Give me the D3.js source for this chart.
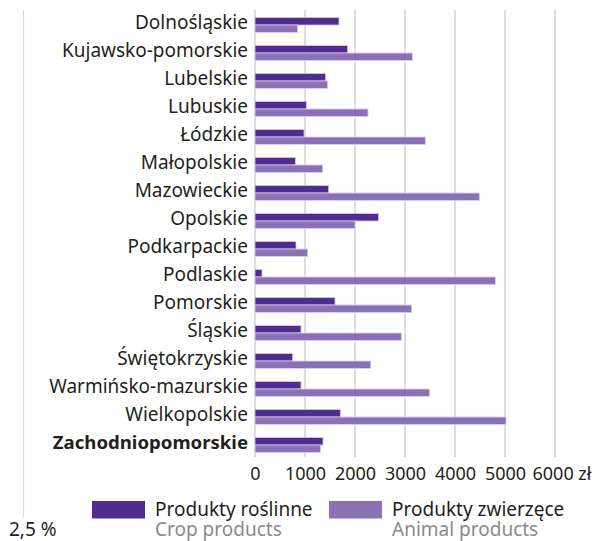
<!DOCTYPE html>
<html><head><meta charset="utf-8">
<script src="https://cdn.jsdelivr.net/npm/d3@7"></script>
<style>body{margin:0;background:#fff}svg{display:block}</style>
</head><body>
<svg id="c" width="595" height="541"></svg>
<script>
const categories = ["Dolnośląskie","Kujawsko-pomorskie","Lubelskie","Lubuskie","Łódzkie","Małopolskie","Mazowieckie","Opolskie","Podkarpackie","Podlaskie","Pomorskie","Śląskie","Świętokrzyskie","Warmińsko-mazurskie","Wielkopolskie","Zachodniopomorskie"];
const cropValues = [1680,1853,1413,1027,980,807,1473,2473,820,140,1600,920,753,920,1707,1360];
const animalValues = [853,3147,1453,2260,3407,1353,4487,2000,1053,4807,3133,2927,2313,3487,5020,1313];
const tickValues = [0,1000,2000,3000,4000,5000,6000];
const seriesNames = [["Produkty roślinne","Crop products"],["Produkty zwierzęce","Animal products"]];
const boldCategory = "Zachodniopomorskie";
const unitLabel = "zł";
const leftNote = "2,5 %";

const colors = ["#522d91","#8a71b3"];
const font = "'Noto Sans', sans-serif";
const fs = 19;
const svg = d3.select("#c");

const x = d3.scaleLinear().domain([0,6000]).range([255,555]);
const y = d3.scaleBand().domain(categories).range([11,459]);
const barH = 7.4;

// left thin line
svg.append("line").attr("x1",23.5).attr("x2",23.5).attr("y1",10).attr("y2",517)
  .attr("stroke","#d9d9d9").attr("stroke-width",1.2);

// gridlines
svg.append("g").selectAll("line").data(tickValues).join("line")
  .attr("x1",d=>x(d)).attr("x2",d=>x(d)).attr("y1",10).attr("y2",457)
  .attr("stroke","#cfcfcf").attr("stroke-width",1.4);

// bars
const rows = svg.append("g").selectAll("g").data(categories).join("g");
rows.append("rect")
  .attr("x",x(0)).attr("y",d=>y(d)+y.bandwidth()/2-barH)
  .attr("width",(d,i)=>x(cropValues[i])-x(0)).attr("height",barH)
  .attr("fill",colors[0]).attr("stroke","#cfc3e4").attr("stroke-width",0.8);
rows.append("rect")
  .attr("x",x(0)).attr("y",d=>y(d)+y.bandwidth()/2)
  .attr("width",(d,i)=>x(animalValues[i])-x(0)).attr("height",barH)
  .attr("fill",colors[1]).attr("stroke","#d6cce8").attr("stroke-width",0.8);

// category labels
svg.append("g").selectAll("text").data(categories).join("text")
  .attr("x",248).attr("y",d=>y(d)+y.bandwidth()/2+3.5)
  .attr("text-anchor","end").attr("font-family",font)
  .attr("font-size",d=>d===boldCategory?18.6:fs)
  .attr("font-weight",d=>d===boldCategory?"bold":"normal")
  .attr("fill","#231f20").text(d=>d);

// x axis tick labels
const ax = svg.append("g").attr("transform","translate(0,457)")
  .call(d3.axisBottom(x).tickValues(tickValues).tickSize(0)
    .tickFormat((d,i)=> i===tickValues.length-1 ? d+" "+unitLabel : d));
ax.select(".domain").remove();
ax.selectAll("text").attr("font-family",font).attr("font-size",18).attr("fill","#231f20")
  .attr("y",23).attr("dy",null);
ax.selectAll(".tick").filter((d,i)=>i===tickValues.length-1).select("text")
  .attr("text-anchor","start").attr("dx",-23);

// legend
const legX = [92,329];
const lg = svg.append("g").selectAll("g").data(seriesNames).join("g");
lg.append("rect").attr("x",(d,i)=>legX[i]).attr("y",501).attr("width",53).attr("height",17.5)
  .attr("fill",(d,i)=>colors[i]);
const lt = lg.append("text").attr("y",515.5)
  .attr("font-family",font).attr("font-size",fs);
lt.append("tspan").attr("x",(d,i)=>legX[i]+63).attr("fill","#231f20").text(d=>d[0]);
lt.append("tspan").attr("x",(d,i)=>legX[i]+63).attr("dy",20.5).attr("fill","#8a8a8a").text(d=>d[1]);

svg.append("text").attr("x",9).attr("y",536).attr("font-family",font).attr("font-size",fs)
  .attr("fill","#231f20").text(leftNote);
</script>
</body></html>
